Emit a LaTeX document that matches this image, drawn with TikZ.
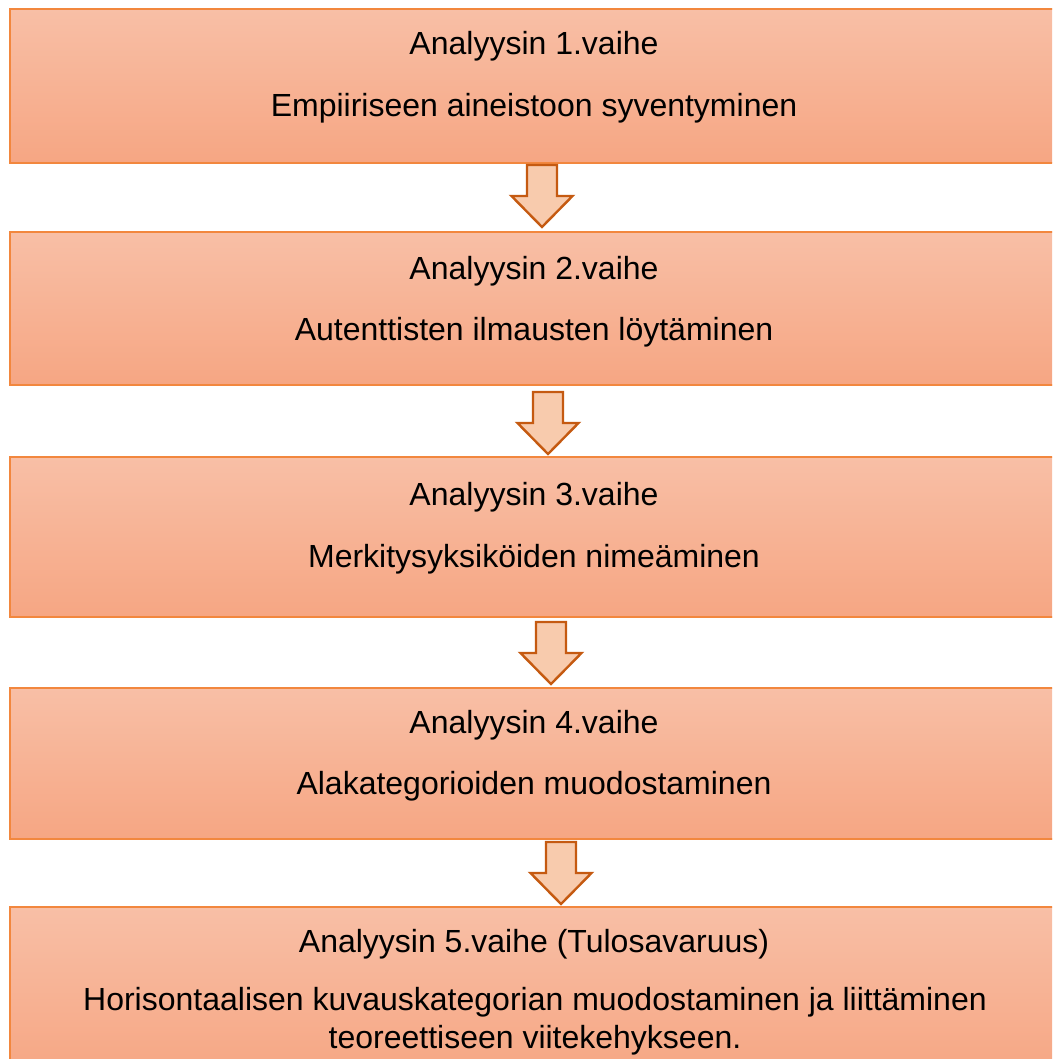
\documentclass[tikz,border=0pt]{standalone}
\usepackage{fontspec}
\setmainfont{Liberation Sans}
\definecolor{boxtop}{HTML}{F8BFA6}
\definecolor{boxbot}{HTML}{F6A683}
\definecolor{boxline}{HTML}{F2873E}
\definecolor{arrfill}{HTML}{F8CBAD}
\definecolor{arrline}{HTML}{C55A11}
\tikzset{
  stagebox/.style={draw=boxline, line width=2pt, top color=boxtop, bottom color=boxbot,
    minimum width=1048pt, inner sep=0pt, rectangle},
  lbl/.style={font=\fontsize{32}{37}\selectfont, anchor=base, inner sep=0pt, text=black},
  downarrow/.pic={\draw[draw=arrline, fill=arrfill, line width=2.4pt, line join=miter]
    (-15,0) -- (15,0) -- (15,-31) -- (30.5,-31) -- (0,-62) -- (-30.5,-31) -- (-15,-31) -- cycle;}
}
\begin{document}
\begin{tikzpicture}[x=1pt,y=1pt]
\clip (0,0) rectangle (1052,-1059);
\fill[white] (0,0) rectangle (1052,-1059);
% boxes
\node[stagebox, minimum height=154pt] (b1) at (534,-86) {};
\node[stagebox, minimum height=153pt] (b2) at (534,-308.5) {};
\node[stagebox, minimum height=160pt] (b3) at (534,-537) {};
\node[stagebox, minimum height=151pt] (b4) at (534,-763.5) {};
\node[stagebox, minimum height=170pt] (b5) at (534,-992) {};
% texts
\node[lbl] (t1a) at (534,-55) {Analyysin 1.vaihe};
\node[lbl] (t1b) at (534,-117) {Empiiriseen aineistoon syventyminen};
\node[lbl] (t2a) at (534,-279) {Analyysin 2.vaihe};
\node[lbl] (t2b) at (534,-340) {Autenttisten ilmausten löytäminen};
\node[lbl] (t3a) at (534,-505) {Analyysin 3.vaihe};
\node[lbl] (t3b) at (534,-567) {Merkitysyksiköiden nimeäminen};
\node[lbl] (t4a) at (534,-733) {Analyysin 4.vaihe};
\node[lbl] (t4b) at (534,-794) {Alakategorioiden muodostaminen};
\node[lbl] (t5a) at (534,-952) {Analyysin 5.vaihe (Tulosavaruus)};
\node[lbl] (t5b) at (535,-1010) {Horisontaalisen kuvauskategorian muodostaminen ja liittäminen};
\node[lbl] (t5c) at (535,-1048) {teoreettiseen viitekehykseen.};
% arrows
\pic (a1) at (542,-165) {downarrow};
\pic (a2) at (548,-392) {downarrow};
\pic (a3) at (551,-622) {downarrow};
\pic (a4) at (561,-842) {downarrow};
\end{tikzpicture}
\end{document}
